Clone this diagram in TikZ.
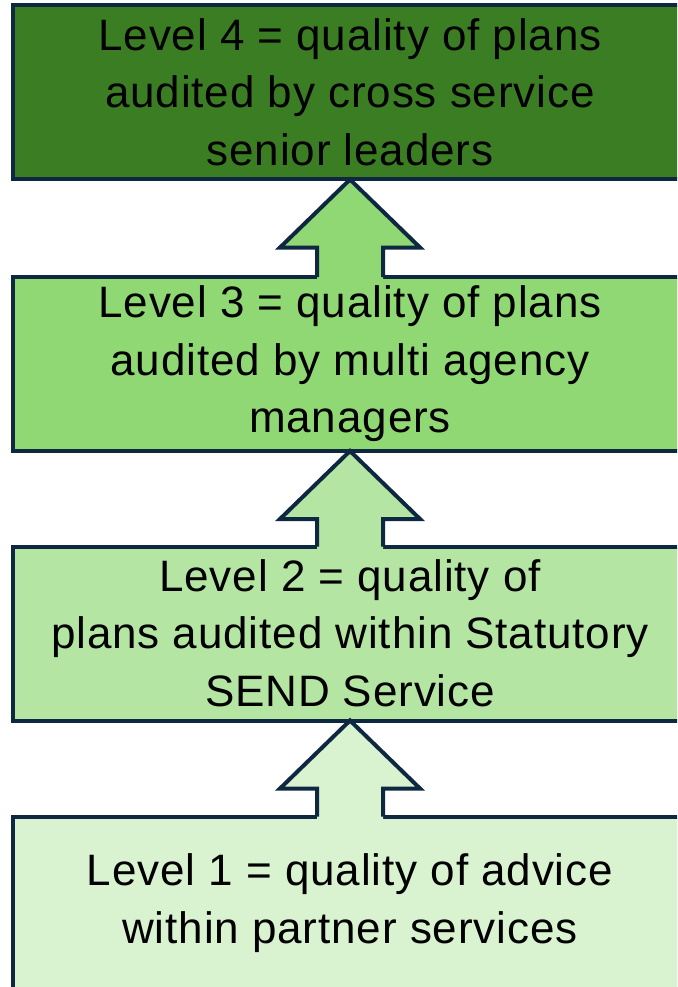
\documentclass[tikz,border=0pt]{standalone}
\usepackage{fontspec}
\setmainfont{Liberation Sans}[LetterSpace=2]
\definecolor{edge}{HTML}{0E2841}
\definecolor{lvlfour}{HTML}{3B7D23}
\definecolor{lvlthree}{HTML}{8FD873}
\definecolor{lvltwo}{HTML}{B4E5A2}
\definecolor{lvlone}{HTML}{D9F2D0}
\tikzset{
  x=1pt, y=-1pt,
  levelbox/.style={draw=edge, line width=4pt},
  leveltext/.style={align=center, font=\fontsize{44}{57.5}\selectfont, inner sep=0pt},
  uparrow/.style={draw=edge, line width=4pt, line join=miter, miter limit=10}
}
% up arrow from the box below (#1 = its top) to the box above (#2 = its bottom)
\newcommand{\levelarrow}[3]{%
  \fill[#3] (317,#1+4) -- (317,#2+68) -- (280,#2+68) -- (350,#2) -- (420,#2+68) -- (383,#2+68) -- (383,#1+4) -- cycle;
  \draw[uparrow] (317,#1) -- (317,#2+68) -- (280,#2+68) -- (350,#2) -- (420,#2+68) -- (383,#2+68) -- (383,#1);
}
\begin{document}
\begin{tikzpicture}
\useasboundingbox (0,0) rectangle (677,987);
\clip (0,0) rectangle (677,987);
\fill[white] (0,0) rectangle (677,987);

% level boxes
\draw[levelbox, fill=lvlfour]  (13,5.5) rectangle (700,179.5);
\draw[levelbox, fill=lvlthree] (13,277) rectangle (700,451);
\draw[levelbox, fill=lvltwo]   (13,546.5) rectangle (700,720.5);
\draw[levelbox, fill=lvlone]   (13,816.5) rectangle (700,1000);

% arrows between levels
\levelarrow{277}{179.5}{lvlthree}
\levelarrow{546.5}{451}{lvltwo}
\levelarrow{816.5}{720.5}{lvlone}

% labels
\node[leveltext] (l4) at (350,92) {Level 4 = quality of plans\\audited by cross service\\senior leaders};
\node[leveltext] (l3) at (350,364) {Level 3 = quality of plans\\audited by multi agency\\managers};
\node[leveltext] (l2) at (350,633) {Level 2 = quality of\\plans audited within Statutory\\SEND Service};
\node[leveltext] (l1) at (350,903) {Level 1 = quality of advice\\within partner services};
\end{tikzpicture}
\end{document}
